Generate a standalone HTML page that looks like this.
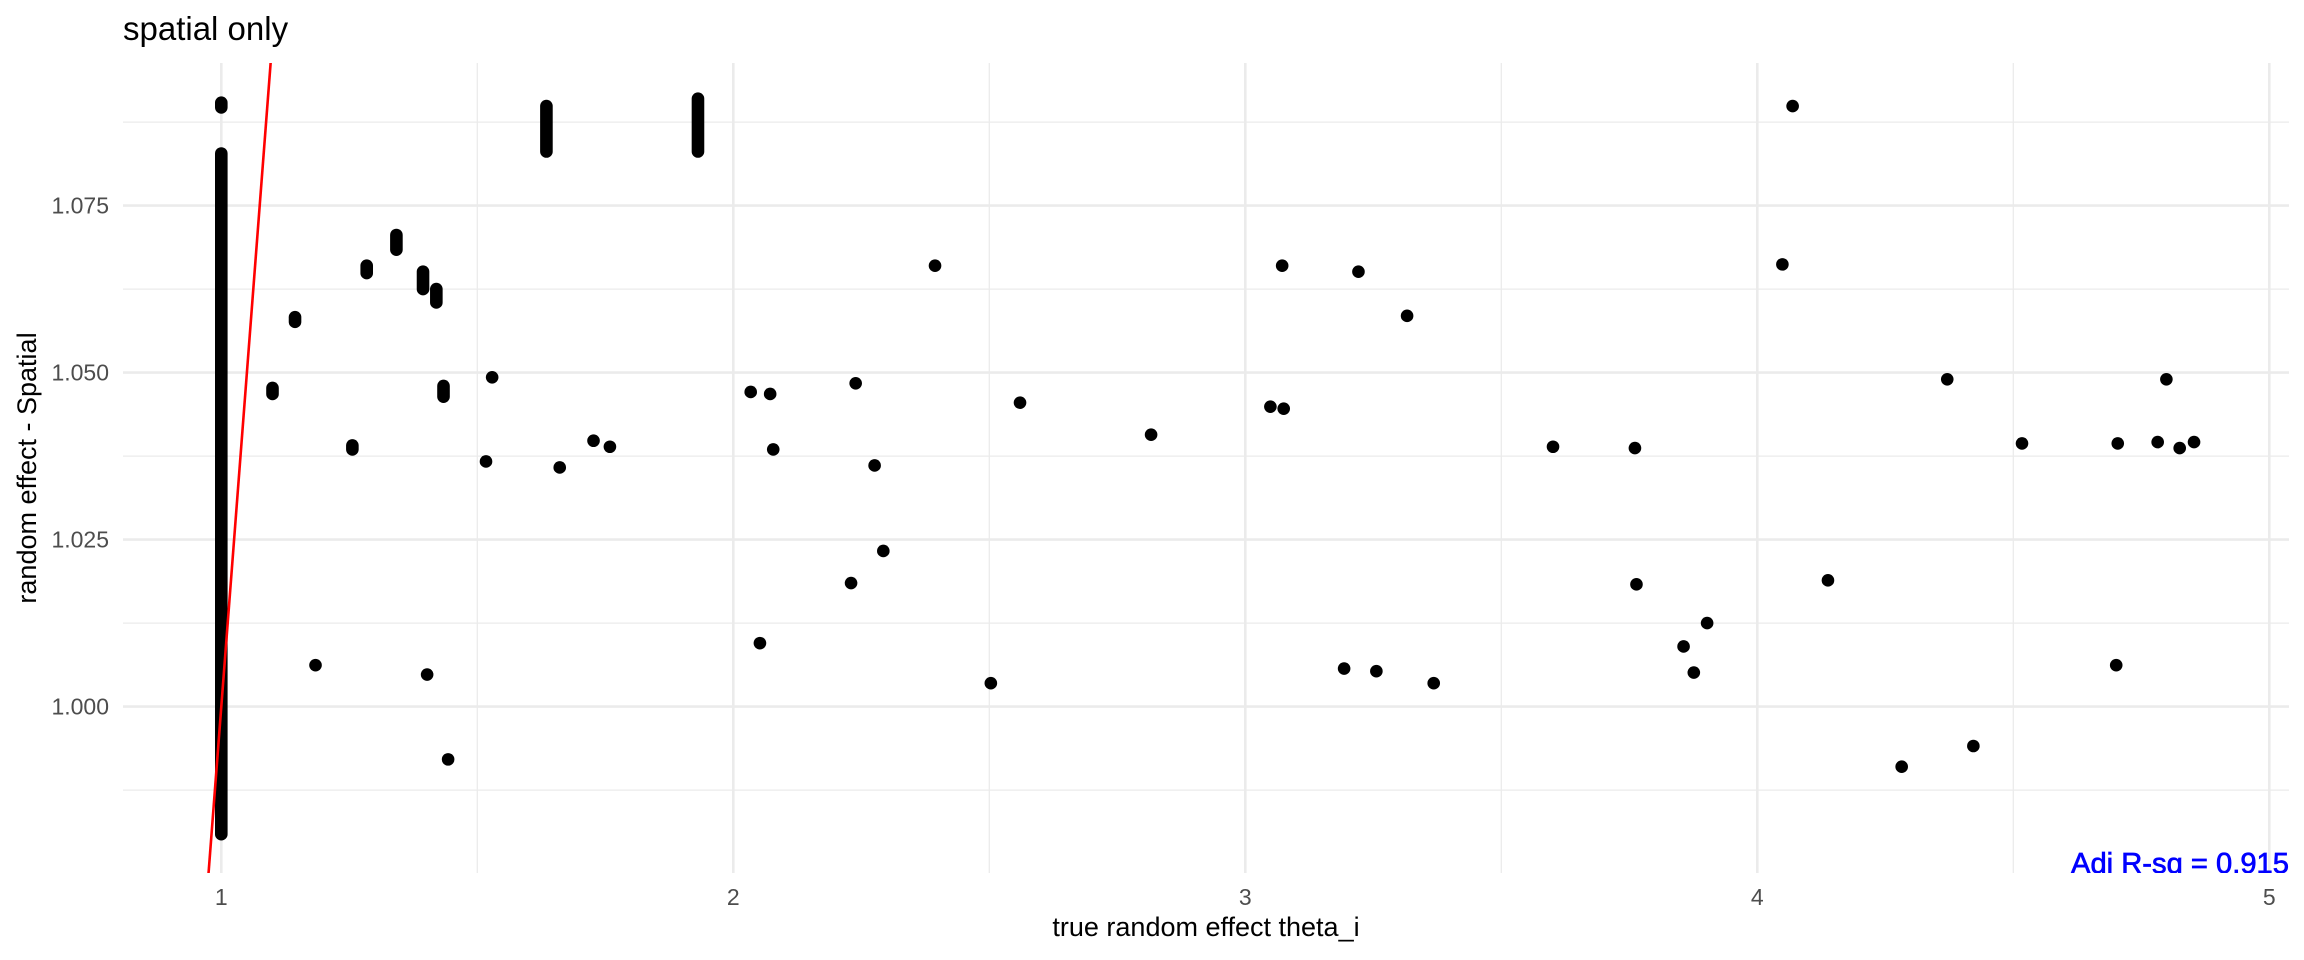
<!DOCTYPE html>
<html><head><meta charset="utf-8"><style>
html,body{margin:0;padding:0;background:#fff;width:2304px;height:960px;overflow:hidden;}
svg{display:block;font-family:"Liberation Sans",sans-serif;}
</style></head><body>
<svg id="chart" width="2304" height="960" viewBox="0 0 2304 960" xmlns="http://www.w3.org/2000/svg">
<defs><clipPath id="panelClip"><rect x="123" y="63" width="2166" height="810"/></clipPath></defs>
<g id="grid"></g>
<g id="marks" clip-path="url(#panelClip)"></g>
<g id="axes"></g>
<text x="123" y="40" font-size="33" fill="#000">spatial only</text>
<text x="1206" y="936" font-size="27" text-anchor="middle" fill="#000">true random effect theta_i</text>
<text transform="translate(36,468) rotate(-90)" font-size="27" text-anchor="middle" fill="#000">random effect - Spatial</text>
</svg>
<script>
const xTicks = [1, 2, 3, 4, 5];
const xTickLabels = ["1", "2", "3", "4", "5"];
const xMinor = [1.5, 2.5, 3.5, 4.5];
const yTicks = [1.000, 1.025, 1.050, 1.075];
const yTickLabels = ["1.000", "1.025", "1.050", "1.075"];
const yMinor = [0.9875, 1.0125, 1.0375, 1.0625, 1.0875];
// stacked point clusters (x, low y, high y)
const clusterX  = [1.000, 1.000, 1.100, 1.144, 1.256, 1.284, 1.342, 1.394, 1.420, 1.434, 1.635, 1.931];
const clusterLo = [0.9809, 1.0897, 1.0468, 1.0576, 1.0385, 1.0649, 1.0684, 1.0625, 1.0605, 1.0464, 1.0831, 1.0831];
const clusterHi = [1.0828, 1.0904, 1.0477, 1.0583, 1.0391, 1.0660, 1.0706, 1.0651, 1.0625, 1.0480, 1.0899, 1.0910];
// single points
const ptX = [1.184, 1.402, 1.443, 1.517, 1.529, 1.661, 1.727, 1.759, 2.034, 2.052, 2.072, 2.078, 2.230, 2.239, 2.276, 2.293, 2.394, 2.503, 2.560, 2.816, 3.049, 3.075, 3.072, 3.193, 3.221, 3.256, 3.316, 3.368, 3.601, 3.761, 3.764, 3.856, 3.876, 3.902, 4.049, 4.069, 4.138, 4.282, 4.371, 4.422, 4.517, 4.704, 4.701, 4.782, 4.799, 4.825, 4.853];
const ptY = [1.0062, 1.0048, 0.9921, 1.0367, 1.0493, 1.0358, 1.0398, 1.0389, 1.0471, 1.0095, 1.0468, 1.0385, 1.0185, 1.0484, 1.0361, 1.0233, 1.0660, 1.0035, 1.0455, 1.0407, 1.0449, 1.0446, 1.0660, 1.0057, 1.0651, 1.0053, 1.0585, 1.0035, 1.0389, 1.0387, 1.0183, 1.0090, 1.0051, 1.0125, 1.0662, 1.0899, 1.0189, 0.9910, 1.0490, 0.9941, 1.0394, 1.0394, 1.0062, 1.0396, 1.0490, 1.0387, 1.0396];
const fitIntercept = [0];
const fitSlope = [1];
const annotation = ["Adj R-sq = 0.915"];

const NS = "http://www.w3.org/2000/svg";
const PL = 123, PR = 2289, PT = 63, PB = 873;
function sx(v){ return 221.3 + (v - 1) * 512; }
function sy(v){ return 706.6 - (v - 1) * 6680; }
function mk(tag, attrs, parent){
  const e = document.createElementNS(NS, tag);
  for (const k in attrs) e.setAttribute(k, attrs[k]);
  parent.appendChild(e);
  return e;
}
const grid = document.getElementById('grid');
const marks = document.getElementById('marks');
const axes = document.getElementById('axes');

xMinor.forEach(v => {
  const l = mk('line', {x1: sx(v), x2: sx(v), y1: PT, y2: PB, stroke: '#ebebeb', 'stroke-width': 1.3}, grid);
  
  
});
yMinor.forEach(v => {
  const l = mk('line', {x1: PL, x2: PR, y1: sy(v), y2: sy(v), stroke: '#ebebeb', 'stroke-width': 1.3}, grid);
  
  
});
xTicks.forEach((v, i) => {
  const l = mk('line', {x1: sx(v), x2: sx(v), y1: PT, y2: PB, stroke: '#ebebeb', 'stroke-width': 2.6}, grid);
  
  
  const t = mk('text', {x: sx(v), y: 905, 'font-size': 23, 'text-anchor': 'middle', fill: '#4d4d4d'}, axes);
  t.textContent = xTickLabels[i];
  
  
});
yTicks.forEach((v, i) => {
  const l = mk('line', {x1: PL, x2: PR, y1: sy(v), y2: sy(v), stroke: '#ebebeb', 'stroke-width': 2.6}, grid);
  
  
  const t = mk('text', {x: 109, y: sy(v) + 8, 'font-size': 23, 'text-anchor': 'end', fill: '#4d4d4d'}, axes);
  t.textContent = yTickLabels[i];
  
  
});
clusterX.forEach((v, i) => {
  const l = mk('line', {x1: sx(v), x2: sx(v), y1: sy(clusterLo[i]), y2: sy(clusterHi[i]), stroke: '#000', 'stroke-width': 12.6, 'stroke-linecap': 'round'}, marks);
  
  
});
ptX.forEach((v, i) => {
  const c = mk('circle', {cx: sx(v), cy: sy(ptY[i]), r: 6.3, fill: '#000'}, marks);
  
  
});
const x0 = 0.8, x1 = 1.2;
const fit = mk('line', {x1: sx(x0), y1: sy(fitIntercept[0] + fitSlope[0] * x0), x2: sx(x1), y2: sy(fitIntercept[0] + fitSlope[0] * x1), stroke: '#ff0000', 'stroke-width': 2.6}, marks);


const ann = mk('text', {x: PR, y: 873, 'font-size': 29, 'text-anchor': 'end', fill: '#0000ff', stroke: '#0000ff', 'stroke-width': 0.7, textLength: 218, lengthAdjust: 'spacingAndGlyphs'}, marks);
ann.textContent = annotation[0];


</script>
</body></html>
